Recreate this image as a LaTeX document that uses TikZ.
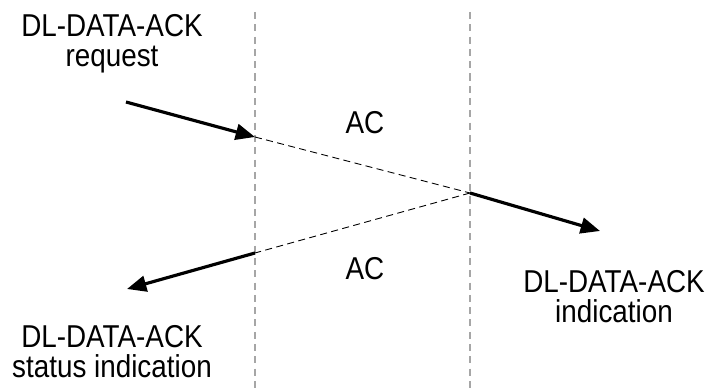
\documentclass[tikz,border=0pt]{standalone}
\usepackage{fontspec}
\setmainfont{Liberation Sans}[FakeStretch=0.88]
\usetikzlibrary{positioning,arrows.meta}

\tikzset{
  lbl/.style={align=center,inner sep=0pt,font=\fontsize{18}{17}\selectfont},
  lane/.style={gray!70,line width=0.6pt,dash pattern=on 4pt off 3pt},
  hop/.style={black,line width=0.5pt,dash pattern=on 4pt off 2.5pt},
  prim/.style={black,line width=1.8pt,-{Triangle[length=11pt,width=9pt]}}
}

\begin{document}
\begin{tikzpicture}[x=0.02cm,y=-0.02cm]
\useasboundingbox (0,0) rectangle (712,391);
% lanes
\coordinate(lt) at (255,12);
\coordinate(lb) at (255,391);
\coordinate(rt) at (470,12);
\coordinate(rb) at (470,391);
\draw[lane](lt)--(lb);
\draw[lane](rt)--(rb);
% labels
\node[lbl,anchor=north](req) at (112,14) {DL-DATA-ACK\\request};
\node[lbl,anchor=north](ind) at (614,270) {DL-DATA-ACK\\indication};
\node[lbl,anchor=north](sta) at (112,325) {DL-DATA-ACK\\status indication};
\node[lbl](ac1) at (365,123) {AC};
\node[lbl](ac2) at (365,269) {AC};
% message points
\coordinate(a) at (126,102);
\coordinate(b) at (255,137);
\coordinate(c) at (470,193);
\coordinate(d) at (600,231);
\coordinate(e) at (255,253);
\coordinate(f) at (127,289);
\draw[prim](a)--(b);
\draw[hop](b)--(c);
\draw[prim](c)--(d);
\draw[hop](c)--(e);
\draw[prim](e)--(f);
\end{tikzpicture}
\end{document}
